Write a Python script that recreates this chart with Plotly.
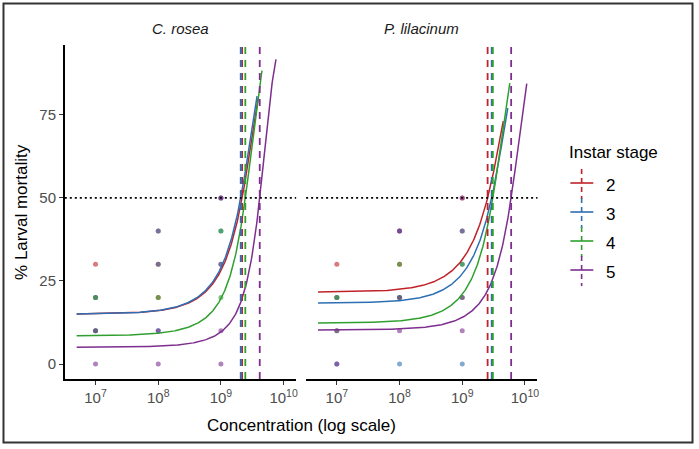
import numpy as np
import plotly.graph_objects as go

# ---------------- data ----------------
stages = ["2", "3", "4", "5"]
stage_colors = ["#C0222A", "#2E6FB3", "#2FA02F", "#7D2E8F"]
species = ["C. rosea", "P. lilacinum"]

# fitted dose-response (logistic on concentration): control mortality (%), LC50, last predicted dose
rosea_control = [15.0, 15.0, 8.5, 5.0]
rosea_lc50 = [2.18e9, 2.07e9, 2.45e9, 4.16e9]
rosea_curve_end = [3.95e9, 3.77e9, 4.53e9, 7.55e9]

lilac_control = [21.6, 18.3, 12.3, 10.2]
lilac_lc50 = [2.54e9, 2.95e9, 3.08e9, 6.03e9]
lilac_curve_end = [4.51e9, 5.33e9, 5.74e9, 1.07e10]

curve_start = 5e6

# observed points (dose, % mortality, stage)
rosea_pt_dose = [1e7, 1e7, 1e8, 1e8, 1e9, 1e9,
                 1e7, 1e7, 1e8, 1e8, 1e9, 1e9, 1e9,
                 1e7, 1e7, 1e8, 1e8, 1e9, 1e9,
                 1e7, 1e7, 1e8, 1e8, 1e8, 1e9, 1e9, 1e9]
rosea_pt_mort = [30, 20, 40, 20, 50, 30,
                 20, 10, 40, 10, 50, 40, 30,
                 20, 10, 30, 20, 40, 20,
                 10, 0, 30, 10, 0, 50, 10, 0]
rosea_pt_stage = ["2"] * 6 + ["3"] * 7 + ["4"] * 6 + ["5"] * 8

lilac_pt_dose = [1e7, 1e7, 1e8, 1e8, 1e9, 1e9,
                 1e7, 1e7, 1e8, 1e8, 1e8, 1e9, 1e9, 1e9,
                 1e7, 1e7, 1e8, 1e8, 1e9, 1e9,
                 1e7, 1e7, 1e8, 1e8, 1e8, 1e9, 1e9, 1e9]
lilac_pt_mort = [30, 20, 40, 30, 50, 40,
                 20, 0, 40, 20, 0, 40, 30, 0,
                 20, 10, 30, 20, 30, 20,
                 10, 0, 40, 20, 10, 50, 20, 10]
lilac_pt_stage = ["2"] * 6 + ["3"] * 8 + ["4"] * 6 + ["5"] * 8

x_ticks = [1e7, 1e8, 1e9, 1e10]
x_tick_text = ["10<sup>7</sup>", "10<sup>8</sup>", "10<sup>9</sup>", "10<sup>10</sup>"]
y_ticks = [0, 25, 50, 75]

# ---------------- figure ----------------
W, H = 699, 449
FONT = "Liberation Sans, Arial, sans-serif"
fig = go.Figure()

panels = [
    ("x", "y", rosea_control, rosea_lc50, rosea_curve_end, rosea_pt_dose, rosea_pt_mort, rosea_pt_stage),
    ("x2", "y2", lilac_control, lilac_lc50, lilac_curve_end, lilac_pt_dose, lilac_pt_mort, lilac_pt_stage),
]

shapes = []
for xa, ya, ctrl, lc50, cend, pd_, pm_, ps_ in panels:
    # points
    for s, col in zip(stages, stage_colors):
        xs = [d for d, st in zip(pd_, ps_) if st == s]
        ys = [m for m, st in zip(pm_, ps_) if st == s]
        fig.add_trace(go.Scatter(x=xs, y=ys, mode="markers", xaxis=xa, yaxis=ya,
                                 marker=dict(color=col, size=5, opacity=0.6),
                                 showlegend=False, hoverinfo="skip"))
    # curves
    for i, (s, col) in enumerate(zip(stages, stage_colors)):
        xx = np.logspace(np.log10(curve_start), np.log10(cend[i]), 300)
        a = np.log(ctrl[i] / (100 - ctrl[i]))
        yy = 100 / (1 + np.exp(-a * (1 - xx / lc50[i])))
        fig.add_trace(go.Scatter(x=xx, y=yy, mode="lines", xaxis=xa, yaxis=ya,
                                 line=dict(color=col, width=1.5),
                                 showlegend=False, hoverinfo="skip"))
    # 50% line
    shapes.append(dict(type="line", xref=f"{xa} domain", yref=ya, x0=0, x1=1, y0=50, y1=50,
                       line=dict(color="black", width=1.6, dash="2px,3px"), layer="above"))
    # LC50 lines
    for i, col in enumerate(stage_colors):
        shapes.append(dict(type="line", xref=xa, yref=f"{ya} domain", x0=lc50[i], x1=lc50[i],
                           y0=0, y1=1, line=dict(color=col, width=1.8, dash="7px,6px"),
                           layer="above"))

# outer frame
shapes.append(dict(type="rect", xref="paper", yref="paper", x0=3.5 / W, x1=694.5 / W,
                   y0=1 - 442.5 / H, y1=1 - 3.5 / H, line=dict(color="#333333", width=2)))

# manual legend
leg_rows = [183, 212, 241, 270]
annotations = []
for s, col, py in zip(stages, stage_colors, leg_rows):
    shapes.append(dict(type="line", xref="paper", yref="paper", x0=572 / W, x1=595 / W,
                       y0=1 - py / H, y1=1 - py / H, line=dict(color=col, width=1.6)))
    shapes.append(dict(type="line", xref="paper", yref="paper", x0=583.3 / W, x1=583.3 / W,
                       y0=1 - (py - 14) / H, y1=1 - (py + 16) / H,
                       line=dict(color=col, width=1.6, dash="5px,4px")))
    annotations.append(dict(text=s, xref="paper", yref="paper", x=606 / W, y=1 - (py + 2) / H,
                            xanchor="left", yanchor="middle", showarrow=False,
                            font=dict(family=FONT, size=17, color="black")))
annotations.append(dict(text="Instar stage", xref="paper", yref="paper", x=569 / W, y=1 - 152 / H,
                        xanchor="left", yanchor="middle", showarrow=False,
                        font=dict(family=FONT, size=17, color="black")))

# panel titles
for name, cx in zip(species, [181, 423]):
    annotations.append(dict(text=f"<i>{name}</i>", xref="paper", yref="paper", x=cx / W, y=1 - 28 / H,
                            xanchor="center", yanchor="middle", showarrow=False,
                            font=dict(family=FONT, size=15, color="#1a1a1a")))
# axis titles
annotations.append(dict(text="Concentration (log scale)", xref="paper", yref="paper",
                        x=302 / W, y=1 - 425 / H, xanchor="center", yanchor="middle",
                        showarrow=False, font=dict(family=FONT, size=17, color="black")))
annotations.append(dict(text="% Larval mortality", xref="paper", yref="paper",
                        x=21 / W, y=1 - 212 / H, xanchor="center", yanchor="middle",
                        textangle=-90, showarrow=False,
                        font=dict(family=FONT, size=17, color="black")))

xrange = [6.51, 10.2]
yrange = [-4.5, 96]
ydom = [1 - 379 / H, 1 - 45 / H]
xcommon = dict(type="log", range=xrange, showline=True, linecolor="black", linewidth=1.6,
               ticks="outside", ticklen=4, tickwidth=1.3, tickcolor="#333333",
               tickvals=x_ticks, ticktext=x_tick_text, showgrid=False, zeroline=False,
               tickfont=dict(family=FONT, size=15, color="#4D4D4D"), fixedrange=True)

fig.update_layout(
    width=W, height=H, margin=dict(l=0, r=0, t=0, b=0),
    paper_bgcolor="white", plot_bgcolor="white", showlegend=False,
    xaxis=dict(domain=[65 / W, 297 / W], anchor="y", **xcommon),
    xaxis2=dict(domain=[307 / W, 539 / W], anchor="y2", **xcommon),
    yaxis=dict(domain=ydom, range=yrange, anchor="x", showline=True, linecolor="black",
               linewidth=1.6, ticks="outside", ticklen=4, tickwidth=1.3, tickcolor="#333333",
               tickvals=y_ticks, showgrid=False, zeroline=False,
               tickfont=dict(family=FONT, size=15, color="#4D4D4D"), fixedrange=True),
    yaxis2=dict(domain=ydom, range=yrange, anchor="x2", showline=False, showticklabels=False,
                ticks="", showgrid=False, zeroline=False, fixedrange=True),
    shapes=shapes, annotations=annotations,
)

fig.write_html("out.html")
